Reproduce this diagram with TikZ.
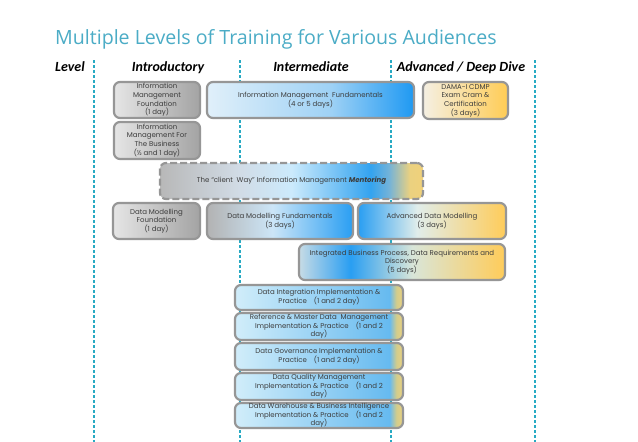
\documentclass[tikz,border=0pt]{standalone}
\usepackage{fontspec}
\setmainfont{Poppins}
\newfontfamily\titlefont{Open Sans}
\newfontfamily\headfont{Carlito}
\definecolor{titleteal}{RGB}{75,172,198}
\definecolor{lineteal}{RGB}{40,170,195}
\definecolor{boxborder}{RGB}{150,150,150}
\definecolor{boxtext}{RGB}{60,60,60}
% stops mapped into the 25bp..75bp band that TikZ fits to the node
\pgfdeclarehorizontalshading{greysh}{100bp}{rgb(0bp)=(0.90,0.90,0.90); rgb(25bp)=(0.90,0.90,0.90); rgb(75bp)=(0.64,0.64,0.64); rgb(100bp)=(0.64,0.64,0.64)}
\pgfdeclarehorizontalshading{imfsh}{100bp}{rgb(0bp)=(0.88,0.94,0.98); rgb(25bp)=(0.88,0.94,0.98); rgb(55bp)=(0.62,0.82,0.96); rgb(75bp)=(0.12,0.60,0.95); rgb(100bp)=(0.12,0.60,0.95)}
\pgfdeclarehorizontalshading{damash}{100bp}{rgb(0bp)=(0.96,0.94,0.89); rgb(25bp)=(0.96,0.94,0.89); rgb(75bp)=(1.0,0.80,0.33); rgb(100bp)=(1.0,0.80,0.33)}
\pgfdeclarehorizontalshading{mentsh}{100bp}{rgb(0bp)=(0.72,0.72,0.72); rgb(25bp)=(0.72,0.72,0.72); rgb(40bp)=(0.82,0.86,0.90); rgb(50bp)=(0.80,0.92,0.99); rgb(65bp)=(0.20,0.64,0.94); rgb(68.5bp)=(0.45,0.70,0.85); rgb(72.5bp)=(0.92,0.82,0.50); rgb(75bp)=(0.94,0.82,0.48); rgb(100bp)=(0.94,0.82,0.48)}
\pgfdeclarehorizontalshading{dmfsh}{100bp}{rgb(0bp)=(0.70,0.70,0.70); rgb(25bp)=(0.70,0.70,0.70); rgb(47.5bp)=(0.80,0.90,0.97); rgb(75bp)=(0.16,0.62,0.95); rgb(100bp)=(0.16,0.62,0.95)}
\pgfdeclarehorizontalshading{admsh}{100bp}{rgb(0bp)=(0.16,0.62,0.95); rgb(25bp)=(0.16,0.62,0.95); rgb(45bp)=(0.88,0.93,0.92); rgb(75bp)=(1.0,0.80,0.35); rgb(100bp)=(1.0,0.80,0.35)}
\pgfdeclarehorizontalshading{ibpsh}{100bp}{rgb(0bp)=(0.78,0.86,0.90); rgb(25bp)=(0.78,0.86,0.90); rgb(37.5bp)=(0.16,0.62,0.95); rgb(52.5bp)=(0.85,0.90,0.85); rgb(75bp)=(1.0,0.80,0.35); rgb(100bp)=(1.0,0.80,0.35)}
\pgfdeclarehorizontalshading{stacksh}{100bp}{rgb(0bp)=(0.82,0.93,0.98); rgb(25bp)=(0.82,0.93,0.98); rgb(71bp)=(0.40,0.73,0.94); rgb(73bp)=(0.82,0.80,0.55); rgb(75bp)=(0.92,0.82,0.50); rgb(100bp)=(0.92,0.82,0.50)}
\tikzset{
  cbox/.style={draw=boxborder, line width=2.2pt, rounded corners=6pt, align=center,
    text=boxtext, inner sep=0pt, font=\fontsize{7}{8.7}\selectfont},
  vline/.style={draw=lineteal, line width=1.3pt, dash pattern=on 3pt off 2pt},
  head/.style={font=\headfont\bfseries\itshape\fontsize{14}{16}\selectfont, anchor=base}
}
\begin{document}
\begin{tikzpicture}[x=1pt,y=-1pt]
\useasboundingbox[fill=white] (0,0) rectangle (638,442);
% title
\node[anchor=base west, inner sep=0pt, text=titleteal, font=\titlefont\fontsize{19.6}{22}\selectfont] (title) at (55,44) {Multiple Levels of Training for Various Audiences};
% headers
\node[head, anchor=base west, inner sep=0pt] (hlevel) at (55,71) {Level};
\node[head] (hintro) at (168,71) {Introductory};
\node[head] (hinter) at (311,71) {Intermediate};
\node[head] (hadv) at (461,71) {Advanced / Deep Dive};
% vertical lines
\coordinate (l1t) at (94,60); \coordinate (l1b) at (94,442);
\coordinate (l2t) at (240,60); \coordinate (l2b) at (240,442);
\coordinate (l3t) at (391,60); \coordinate (l3b) at (391,442);
\coordinate (l4t) at (535,60); \coordinate (l4b) at (535,442);
\draw[vline] (l1t) -- (l1b);
\draw[vline] (l2t) -- (l2b);
\draw[vline] (l3t) -- (l3b);
\draw[vline] (l4t) -- (l4b);
% boxes
\node[cbox, shading=greysh, minimum width=86pt, minimum height=36pt] (imfound) at (157,100) {Information\\Management\\Foundation\\(1 day)};
\node[cbox, shading=greysh, minimum width=86pt, minimum height=37pt] (imbus) at (157,140.5) {Information\\Management For\\The Business\\(\textonehalf{} and 1 day)};
\node[cbox, shading=imfsh, minimum width=207pt, minimum height=36pt] (imfund) at (310.5,100) {Information Management\ \ Fundamentals\\(4 or 5 days)};
\node[cbox, shading=damash, minimum width=85pt, minimum height=37pt] (dama) at (465.5,100.5) {DAMA-I CDMP\\Exam Cram \&\\Certification\\(3 days)};
\node[cbox, shading=mentsh, dash pattern=on 7pt off 3pt, minimum width=263pt, minimum height=36pt] (mentor) at (291.5,181) {The “client\ \ Way” Information Management \textbf{\textit{Mentoring}}};
\node[cbox, shading=greysh, minimum width=87pt, minimum height=36pt] (dmfound) at (156.5,221) {Data Modelling\\Foundation\\(1 day)};
\node[cbox, shading=dmfsh, minimum width=146pt, minimum height=36pt] (dmfund) at (280,221) {Data Modelling Fundamentals\\(3 days)};
\node[cbox, shading=admsh, minimum width=148pt, minimum height=36pt] (adm) at (432,221) {Advanced Data Modelling\\(3 days)};
\node[cbox, shading=ibpsh, minimum width=206pt, minimum height=36pt] (ibp) at (402,262) {Integrated Business Process, Data Requirements and\\Discovery\\(5 days)};
\node[cbox, shading=stacksh, minimum width=168pt, minimum height=25pt] (di) at (319,297.5) {Data Integration Implementation \&\\Practice\quad (1 and 2 day)};
\node[cbox, shading=stacksh, minimum width=168pt, minimum height=27pt] (rmd) at (319,326.5) {Reference \& Master Data\ \ Management\\Implementation \& Practice\quad (1 and 2\\day)};
\node[cbox, shading=stacksh, minimum width=168pt, minimum height=27pt] (dg) at (319,356.5) {Data Governance Implementation \&\\Practice\quad (1 and 2 day)};
\node[cbox, shading=stacksh, minimum width=168pt, minimum height=27pt] (dq) at (319,386.5) {Data Quality Management\\Implementation \& Practice\quad (1 and 2\\day)};
\node[cbox, shading=stacksh, minimum width=168pt, minimum height=25pt] (dw) at (319,415.5) {Data Warehouse \& Business Intelligence\\Implementation \& Practice\quad (1 and 2\\day)};
\end{tikzpicture}
\end{document}
